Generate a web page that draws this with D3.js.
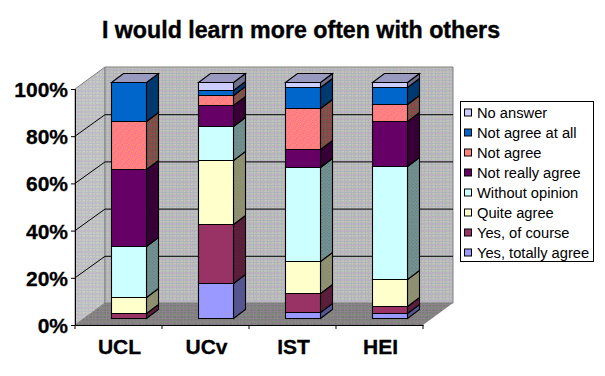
<!DOCTYPE html>
<html>
<head>
<meta charset="utf-8">
<script src="https://cdn.jsdelivr.net/npm/d3@7"></script>
<style>
html, body { margin: 0; padding: 0; background: #fff; }
svg { display: block; }
text { font-family: "Liberation Sans", Arial, sans-serif; fill: #000; }
</style>
</head>
<body>
<div id="viz"></div>
<script>
// Chart data, bottom of the stack first
const categories = ["UCL", "UCv", "IST", "HEI"];
const seriesNames = ["Yes, totally agree", "Yes, of course", "Quite agree", "Without opinion",
    "Not really agree", "Not agree", "Not agree at all", "No answer"];
const totallyAgree = [0, 14.7, 2.4, 2];
const ofCourse = [2, 25, 8.1, 3];
const quiteAgree = [6.7, 27.3, 13.5, 11.4];
const withoutOpinion = [21.6, 14.2, 39.9, 47.9];
const notReallyAgree = [33, 8.9, 7.6, 19];
const notAgree = [20.2, 4.5, 17.4, 7.2];
const notAgreeAtAll = [16.4, 1.9, 8.9, 7.3];
const noAnswer = [0, 3.5, 2.2, 2.2];
const yTicks = [0, 20, 40, 60, 80, 100];
const title = "I would learn more often with others";

const seriesValues = [totallyAgree, ofCourse, quiteAgree, withoutOpinion,
    notReallyAgree, notAgree, notAgreeAtAll, noAnswer];
const seriesColors = ["#9999ff", "#993366", "#ffffcc", "#ccffff", "#660066", "url(#pink)", "#0066cc", "#ccccff"];
const legendColors = ["#9999ff", "#993366", "#ffffcc", "#ccffff", "#660066", "#ff8080", "#0066cc", "#ccccff"];
const sideColors = ["#555590", "url(#courseSide)", "url(#quiteSide)", "url(#opinionSide)", "#360036", "url(#pinkSide)", "#003870", "#70708c"];

const dims = {
    width: 605, height: 376,
    left: 75, right: 423, top: 89, bottom: 325,
    depthX: 30, depthY: 22,       // front axis to back wall
    barDepthX: 12, barDepthY: 9,  // side of a bar
    barShiftX: 9.5, barShiftY: 7, // front of a bar against the axis
    barWidth: 35
};

const svg = d3.select("#viz").append("svg")
    .attr("width", dims.width)
    .attr("height", dims.height);

const xScale = d3.scaleBand().domain(categories).range([dims.left, dims.right]);
const yScale = d3.scaleLinear().domain([0, 100]).range([dims.bottom, dims.top]);

const line = d3.line();

// old-style dithered fills: a small tile of pixels cycling through a few colours
const defs = svg.append("defs");
function dither(id, colors) {
    const size = 7;
    const p = defs.append("pattern").attr("id", id)
        .attr("width", size).attr("height", size).attr("patternUnits", "userSpaceOnUse");
    d3.range(size * size).forEach(i => {
        const px = i % size, py = Math.floor(i / size);
        p.append("rect").attr("x", px).attr("y", py).attr("width", 1).attr("height", 1)
            .attr("fill", colors[(px * 3 + py * 5 + px * py) % colors.length]);
    });
}
dither("wall", ["#c4b0c4", "#b4c0ac", "#c8c8bc", "#aeb4bc", "#c8b8c8", "#bcc4b4"]);
dither("wallSide", ["#c8b8c8", "#bcc8b8", "#d0d0c4", "#b8bcc4", "#ccc0cc", "#c4ccc0"]);
dither("floor", ["#7c8c74", "#8c7a8c", "#748074", "#8c848c", "#6f7f6f", "#867686"]);
dither("pink", ["#ff8080", "#ff7090", "#ff9070", "#ff8080", "#f57a8a"]);
dither("pinkSide", ["#8f4848", "#70584c", "#a04a50", "#7a4a44"]);
dither("courseSide", ["#5a1e3c", "#4c2040", "#682038"]);
dither("quiteSide", ["#8f9070", "#80906a", "#9a9078"]);
dither("opinionSide", ["#708f8f", "#648880", "#7a9098"]);

const back = { x0: dims.left + dims.depthX, x1: dims.right + dims.depthX, dy: dims.depthY };

const walls = svg.append("g").attr("class", "walls");
walls.append("path") // left wall
    .attr("d", line([[dims.left, yScale(100)], [back.x0, yScale(100) - back.dy],
        [back.x0, yScale(0) - back.dy], [dims.left, yScale(0)]]) + "Z")
    .attr("fill", "url(#wallSide)").attr("stroke", "#808080");
walls.append("path") // back wall
    .attr("d", line([[back.x0, yScale(100) - back.dy], [back.x1, yScale(100) - back.dy],
        [back.x1, yScale(0) - back.dy], [back.x0, yScale(0) - back.dy]]) + "Z")
    .attr("fill", "url(#wall)").attr("stroke", "#808080");
walls.append("path") // floor
    .attr("d", line([[dims.left, yScale(0)], [dims.right, yScale(0)],
        [back.x1, yScale(0) - back.dy], [back.x0, yScale(0) - back.dy]]) + "Z")
    .attr("fill", "url(#floor)").attr("stroke", "none");

// gridlines run along the left wall and the back wall
const grid = svg.append("g").attr("class", "grid")
    .attr("fill", "none").attr("stroke", "#000");
grid.selectAll("path").data(yTicks.filter(t => t > 0 && t < 100)).join("path")
    .attr("d", t => line([[dims.left, yScale(t)], [back.x0, yScale(t) - back.dy + 0.5], [back.x1, yScale(t) - back.dy + 0.5]]));

// axes
const yAxis = d3.axisLeft(yScale).tickValues(yTicks).tickFormat(d => d + "%").tickSize(4).tickPadding(3);
const yG = svg.append("g").attr("transform", `translate(${dims.left},0)`).call(yAxis);
yG.selectAll("text").style("font-size", "21px").style("font-weight", "bold")
    .style("stroke", "#000").style("stroke-width", 0.3).attr("dy", "0.36em");

const xAxis = d3.axisBottom(xScale).tickValues([]).tickSize(0);
const xG = svg.append("g").attr("transform", `translate(0,${dims.bottom})`).call(xAxis);
xG.selectAll(".tick-mark").data(d3.range(categories.length + 1)).join("line")
    .attr("class", "tick-mark")
    .attr("x1", i => dims.left + i * xScale.step()).attr("x2", i => dims.left + i * xScale.step())
    .attr("y1", 0).attr("y2", 4).attr("stroke", "#000");
svg.selectAll("g .domain").attr("stroke", "#000");

svg.append("g").attr("class", "cat-labels")
    .selectAll("text").data(categories).join("text")
    .attr("x", d => xScale(d) + xScale.bandwidth() / 2 + 1)
    .attr("y", 354)
    .attr("text-anchor", "middle")
    .style("font-size", "21px").style("font-weight", "bold")
    .style("stroke", "#000").style("stroke-width", 0.3)
    .text(d => d);

// stacked bars, side first and then front of each segment
const stackData = categories.map((c, i) => {
    const row = { cat: c };
    seriesNames.forEach((s, j) => { row[s] = seriesValues[j][i]; });
    return row;
});
const stacked = d3.stack().keys(seriesNames)(stackData);

const barG = svg.append("g").attr("class", "bars")
    .attr("stroke", "#000").attr("stroke-width", 1.1).attr("stroke-linejoin", "miter");

function barLeft(c) {
    return Math.round(xScale(c) + (xScale.bandwidth() - dims.barWidth) / 2 + dims.barShiftX) + 0.5;
}

stacked.forEach((layer, j) => {
    layer.forEach(d => {
        if (d[1] - d[0] <= 0) return;
        const x0 = barLeft(d.data.cat);
        const x1 = x0 + dims.barWidth;
        const y0 = Math.round(yScale(d[0]) - dims.barShiftY) + 0.5;
        const y1 = Math.round(yScale(d[1]) - dims.barShiftY) + 0.5;
        const g = barG.append("g");
        g.append("path") // side
            .attr("d", line([[x1, y0], [x1 + dims.barDepthX, y0 - dims.barDepthY],
                [x1 + dims.barDepthX, y1 - dims.barDepthY], [x1, y1]]) + "Z")
            .attr("fill", sideColors[j]);
        g.append("path") // front
            .attr("d", line([[x0, y0], [x1, y0], [x1, y1], [x0, y1]]) + "Z")
            .attr("fill", seriesColors[j]);
    });
});

// lid on top of each bar
categories.forEach((c, i) => {
    const x0 = barLeft(c);
    const x1 = x0 + dims.barWidth;
    const top = Math.round(yScale(d3.sum(seriesValues, s => s[i])) - dims.barShiftY) + 0.5;
    barG.append("path")
        .attr("d", line([[x0, top], [x1, top], [x1 + dims.barDepthX, top - dims.barDepthY],
            [x0 + dims.barDepthX, top - dims.barDepthY]]) + "Z")
        .attr("fill", "#9a9ac0");
});

// title
svg.append("text")
    .attr("x", 301).attr("y", 38)
    .attr("text-anchor", "middle")
    .style("font-size", "23.2px").style("font-weight", "bold")
    .style("stroke", "#000").style("stroke-width", 0.4)
    .text(title);

// legend
const legend = svg.append("g").attr("class", "legend").attr("transform", "translate(460,101)");
legend.append("rect")
    .attr("x", 0.5).attr("y", 0.5).attr("width", 133).attr("height", 160)
    .attr("fill", "#fff").attr("stroke", "#000");
const legendRows = seriesNames.slice().reverse();
const legendY = d3.scalePoint().domain(legendRows).range([11.5, 151.5]);
const rows = legend.selectAll("g.row").data(legendRows).join("g")
    .attr("class", "row")
    .attr("transform", d => `translate(0,${legendY(d)})`);
rows.append("rect")
    .attr("x", 4.5).attr("y", -3.5).attr("width", 7).attr("height", 7)
    .attr("stroke", "#000")
    .attr("fill", d => legendColors[seriesNames.indexOf(d)]);
rows.append("text")
    .attr("x", 17).attr("y", 5.5)
    .style("font-size", "14.7px")
    .text(d => d);
</script>
</body>
</html>
